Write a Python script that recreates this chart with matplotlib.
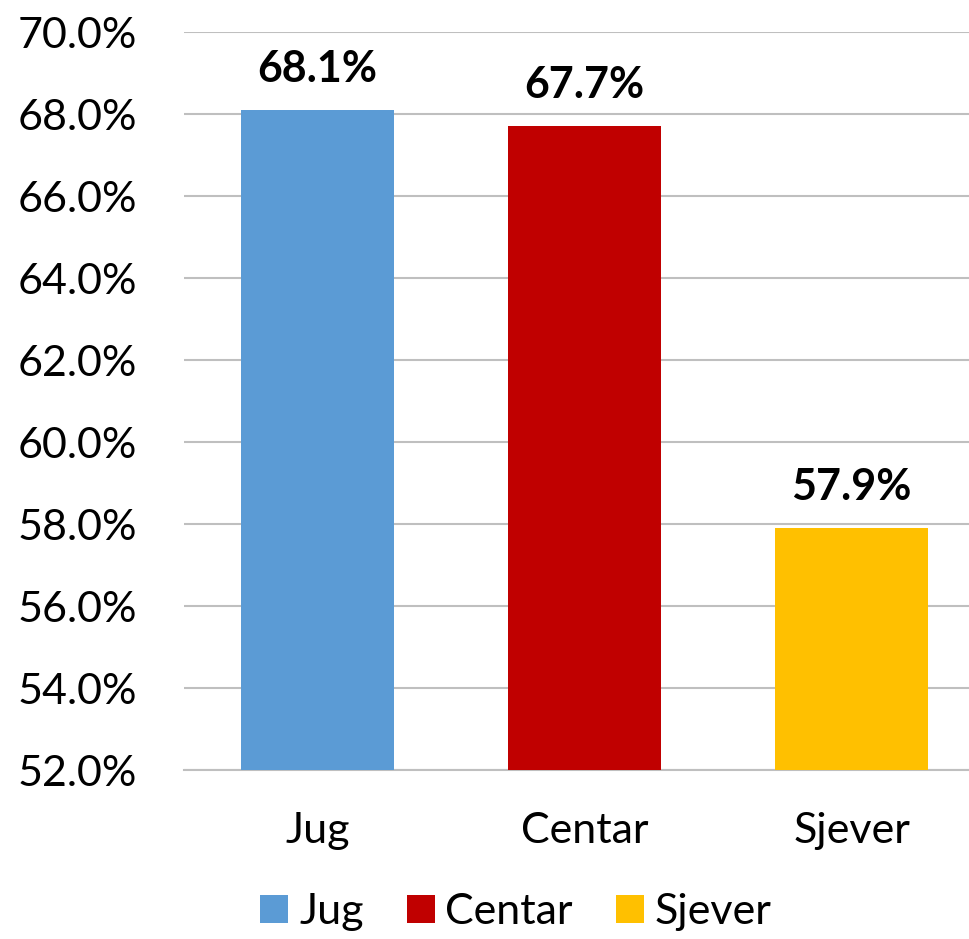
import matplotlib.pyplot as plt
from matplotlib.ticker import FuncFormatter

# dữ liệu
regions = ['Jug', 'Centar', 'Sjever']
shares = [68.1, 67.7, 57.9]
bar_colors = ['#5B9BD5', '#C00000', '#FFC000']

plt.rcParams['font.family'] = ['Lato', 'DejaVu Sans']

fig = plt.figure(figsize=(9.69, 9.39), dpi=100)
ax = fig.add_axes([184 / 969, 169 / 939, 785 / 969, 738 / 939])

x = range(len(regions))
bars = ax.bar(x, shares, width=0.573, color=bar_colors, label=regions, zorder=3)

ax.set_ylim(52, 70)
ax.set_yticks(range(52, 71, 2))
ax.yaxis.set_major_formatter(FuncFormatter(lambda v, p: f'{v:.1f}%'))
ax.set_xlim(-0.5, 2.44)
ax.set_xticks(list(x))
ax.set_xticklabels(regions)

ax.grid(axis='y', color='#BFBFBF', linewidth=1.5, zorder=0)
for s in ['top', 'right', 'left']:
    ax.spines[s].set_visible(False)
ax.spines['bottom'].set_color('#BFBFBF')
ax.spines['bottom'].set_linewidth(1.5)
ax.tick_params(axis='both', length=0, labelsize=31)
ax.tick_params(axis='y', pad=34)
ax.tick_params(axis='x', pad=30)

# nhãn giá trị trên cột
for b, v in zip(bars, shares):
    ax.annotate(f'{v:.1f}%', (b.get_x() + b.get_width() / 2, v),
                xytext=(0, 15), textcoords='offset points',
                ha='center', va='bottom', fontsize=31, fontweight='bold')

fig.legend(handles=list(bars), labels=regions, loc='center',
           bbox_to_anchor=(516 / 969, 1 - 912 / 939), ncol=3, frameon=False,
           fontsize=31, handlelength=0.65, handleheight=0.65,
           handletextpad=0.25, columnspacing=1.0, borderpad=0.1)

fig.savefig('out.png', dpi=100)
